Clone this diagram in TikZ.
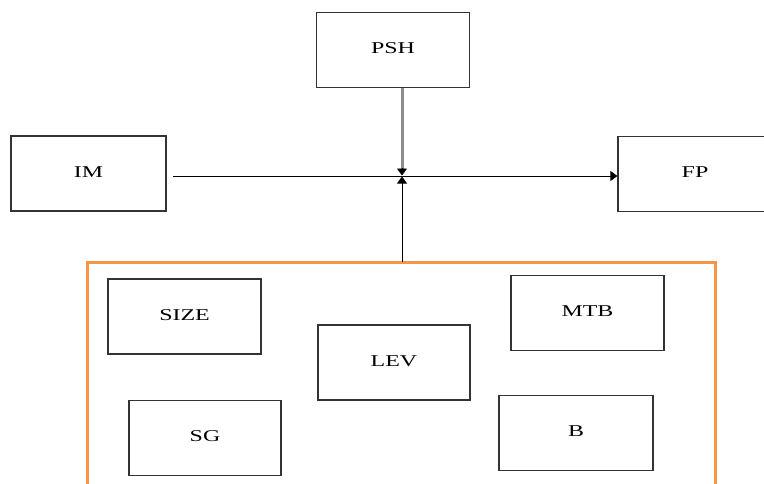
\documentclass[tikz,border=0pt]{standalone}
\usepackage{fontspec}
\setmainfont{Liberation Serif}
\usetikzlibrary{arrows.meta}
\definecolor{grporange}{HTML}{F79646}
\definecolor{boxline}{HTML}{333333}
\definecolor{arrowgray}{HTML}{8C8C8C}
\tikzset{
  box/.style={draw=boxline, line width=1.2pt, minimum width=153pt, minimum height=75pt, inner sep=0pt,
    font=\fontsize{16.5}{18}\selectfont},
  conn/.style={line width=0.9pt, -{Triangle[length=7pt,width=10pt]}},
  grayshaft/.style={draw=arrowgray, line width=3pt},
  grouprule/.style={draw=grporange, line width=3pt},
}
\newcommand{\lbl}[1]{\raisebox{3pt}{\scalebox{1.45}[1]{#1}}}
\begin{document}
\begin{tikzpicture}[x=1pt,y=-1pt]
\useasboundingbox (0,0) rectangle (764,483);
\clip (0,0) rectangle (764,483);
\node[box] (psh) at (393,50) {\lbl{PSH}};
\node[box, minimum width=155pt] (im) at (88.5,173.5) {\lbl{IM}};
\node[box, minimum width=154pt] (fp) at (695,174) {\lbl{FP}};
\node[box] (size) at (184.5,316.5) {\lbl{SIZE}};
\node[box, minimum width=152pt] (lev) at (394,362.5) {\lbl{LEV}};
\node[box] (mtb) at (587.5,313) {\lbl{MTB}};
\node[box, minimum width=152pt] (sg) at (205,438) {\lbl{SG}};
\node[box, minimum width=154pt] (b) at (576,433) {\lbl{B}};
\node[draw=none, minimum width=628pt, minimum height=240pt, inner sep=0pt, anchor=north west] (grp) at (87,262) {};
\path[grouprule] (grp.south west) -- (grp.north west) -- (grp.north east) -- (grp.south east);
\coordinate (j) at (402,176);
\coordinate (imout) at (173,176);
\coordinate (ptop) at ([yshift=7pt]j);
\draw[conn] (imout) -- (fp.west |- imout);
\path[grayshaft] (psh.south -| j) -- (ptop);
\draw[conn] ([yshift=1pt]ptop) -- ([yshift=0.5pt]j);
\draw[conn] (grp.north -| j) -- ([yshift=-0.5pt]j);
\end{tikzpicture}
\end{document}
